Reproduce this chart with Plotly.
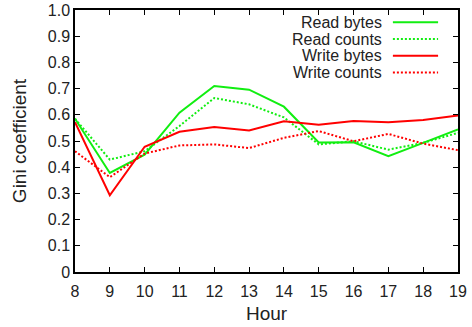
import plotly.graph_objects as go

hours = [8, 9, 10, 11, 12, 13, 14, 15, 16, 17, 18, 19]
read_bytes = [0.585, 0.378, 0.448, 0.608, 0.710, 0.696, 0.631, 0.494, 0.495, 0.442, 0.493, 0.544]
read_counts = [0.585, 0.429, 0.461, 0.557, 0.664, 0.640, 0.590, 0.487, 0.499, 0.467, 0.493, 0.531]
write_bytes = [0.572, 0.293, 0.478, 0.535, 0.553, 0.540, 0.575, 0.562, 0.576, 0.572, 0.580, 0.597]
write_counts = [0.461, 0.362, 0.452, 0.483, 0.487, 0.473, 0.512, 0.538, 0.499, 0.527, 0.490, 0.465]

series_names = ["Read bytes", "Read counts", "Write bytes", "Write counts"]
series_data = [read_bytes, read_counts, write_bytes, write_counts]
series_colors = ["#11ee11", "#11ee11", "#ff0000", "#ff0000"]
series_dash = ["solid", "2px,2px", "solid", "2px,2px"]

y_ticks = [0, 0.1, 0.2, 0.3, 0.4, 0.5, 0.6, 0.7, 0.8, 0.9, 1.0]
y_ticktext = ["0", "0.1", "0.2", "0.3", "0.4", "0.5", "0.6", "0.7", "0.8", "0.9", "1.0"]

FONT = "Liberation Sans, Arial, sans-serif"

fig = go.Figure()
for name, vals, col, dash in zip(series_names, series_data, series_colors, series_dash):
    fig.add_trace(go.Scatter(x=hours, y=vals, mode="lines", name=name,
                             line=dict(color=col, width=2, dash=dash),
                             showlegend=False))

# manual gnuplot-style legend (text right-aligned, sample line on right)
legend_y = [0.953, 0.889, 0.825, 0.761]
for name, col, dash, ly in zip(series_names, series_colors, series_dash, legend_y):
    fig.add_annotation(x=0.804, y=ly, xref="paper", yref="paper", text=name,
                       showarrow=False, xanchor="right", yanchor="middle",
                       borderpad=0,
                       font=dict(family=FONT, size=16, color="#222222"))
    fig.add_shape(type="line", xref="paper", yref="paper", x0=0.830, x1=0.948,
                  y0=ly, y1=ly, line=dict(color=col, width=2, dash=dash))

fig.update_layout(
    width=472, height=327,
    margin=dict(l=75, r=14, t=10, b=55),
    paper_bgcolor="white", plot_bgcolor="white",
    font=dict(family=FONT, size=16, color="#222222"),
    xaxis=dict(range=[8, 19], tickmode="array", tickvals=hours, automargin=False,
               ticks="inside", ticklen=5, tickcolor="black", mirror="allticks",
               showline=True, linecolor="black", linewidth=1.5, showgrid=False,
               zeroline=False, ticklabelstandoff=4,
               title=dict(text="Hour", standoff=8)),
    yaxis=dict(range=[0, 1.0], tickmode="array", tickvals=y_ticks, ticktext=y_ticktext,
               automargin=False,
               ticks="inside", ticklen=5, tickcolor="black", mirror="allticks",
               showline=True, linecolor="black", linewidth=1.5, showgrid=False,
               zeroline=False, title=dict(text="Gini coefficient", standoff=16)),
)

fig.write_html("out.html", config={"displayModeBar": False},
               post_script="document.body.style.margin='0';document.body.style.overflow='hidden';")
